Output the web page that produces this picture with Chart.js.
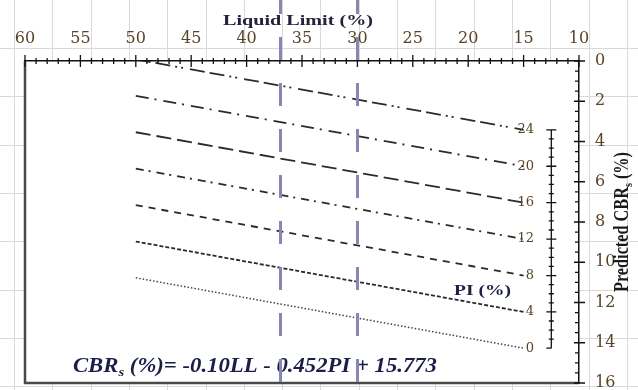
<!DOCTYPE html>
<html>
<head>
<meta charset="utf-8">
<script src="https://cdn.jsdelivr.net/npm/chart.js@4.4.1/dist/chart.umd.min.js"></script>
<style>
  html, body { margin: 0; padding: 0; background: #fff; }
</style>
</head>
<body>
<canvas id="cbrChart" width="638" height="390"></canvas>
<script>
// LL range covered by every PI line
const lineLL = [50, 15];
const piLevels = [24, 20, 16, 12, 8, 4, 0];
// predicted CBR (%) at LL = 50 and at LL = 15, one per PI line
const cbrAtStart = [-0.08, 1.73, 3.54, 5.35, 7.16, 8.97, 10.77];
const cbrAtEnd = [3.42, 5.23, 7.04, 8.85, 10.66, 12.47, 14.27];
// liquid limits marked by the vertical guides
const guideLL = [37, 30];
// tick labels
const llTicks = [60, 55, 50, 45, 40, 35, 30, 25, 20, 15, 10];
const cbrTicks = [0, 2, 4, 6, 8, 10, 12, 14, 16];

const dashStyles = [
  [15, 5, 15, 5, 2, 4, 2, 7],
  [13, 6, 2, 7],
  [15, 6],
  [8, 5, 2, 6],
  [7, 6],
  [4, 2],
  [1.5, 2]
];

const tickColor = '#5a4426';
const serif = 'Liberation Serif';

// draw text squeezed/stretched horizontally to a given width
function fitText(ctx, parts, x, y, width, align) {
  let w = 0;
  parts.forEach(p => { ctx.font = p.font; w += ctx.measureText(p.text).width; });
  const sx = width / w;
  ctx.save();
  ctx.translate(x, y);
  ctx.scale(sx, 1);
  let cx = align === 'center' ? -w / 2 : 0;
  ctx.textAlign = 'left';
  parts.forEach(p => {
    ctx.font = p.font;
    ctx.fillText(p.text, cx, p.dy || 0);
    cx += ctx.measureText(p.text).width;
  });
  ctx.restore();
}

const sheetBackground = {
  id: 'sheetBackground',
  beforeDraw(chart) {
    const {ctx, chartArea: a, width, height} = chart;
    ctx.save();
    ctx.fillStyle = '#fff';
    ctx.fillRect(0, 0, width, height);
    ctx.strokeStyle = '#d9d9d9';
    ctx.lineWidth = 1;
    ctx.beginPath();
    for (let x = 14; x < width; x += 38.3) {
      ctx.moveTo(Math.round(x) + 0.5, 0);
      ctx.lineTo(Math.round(x) + 0.5, height);
    }
    for (let y = 48; y < height; y += 48.3) {
      ctx.moveTo(0, Math.round(y) + 0.5);
      ctx.lineTo(width, Math.round(y) + 0.5);
    }
    ctx.stroke();
    ctx.fillStyle = '#fff';
    ctx.fillRect(a.left, a.top, a.right - a.left, a.bottom - a.top);
    ctx.restore();
  }
};

const decorations = {
  id: 'decorations',
  afterDraw(chart) {
    const {ctx, chartArea: a, height} = chart;
    const xs = chart.scales.x, ys = chart.scales.y;
    ctx.save();

    // plot frame, left and bottom
    ctx.strokeStyle = '#4a4a4a';
    ctx.lineWidth = 2.5;
    ctx.beginPath();
    ctx.moveTo(a.left, a.top);
    ctx.lineTo(a.left, a.bottom);
    ctx.lineTo(a.right, a.bottom);
    ctx.stroke();

    // tick marks on the LL axis (major 5, minor 1)
    ctx.strokeStyle = '#111';
    ctx.lineWidth = 1.3;
    ctx.beginPath();
    for (let v = xs.min; v <= xs.max; v++) {
      const px = xs.getPixelForValue(v);
      const len = v % 5 === 0 ? 6 : 3;
      ctx.moveTo(px, a.top - len);
      ctx.lineTo(px, a.top + len);
    }
    // tick marks on the CBR axis (major 2, minor 0.5)
    for (let v = ys.min; v <= ys.max; v += 0.5) {
      const py = ys.getPixelForValue(v);
      if (v % 2 === 0) {
        ctx.moveTo(a.right - 5, py);
        ctx.lineTo(a.right + 6, py);
      } else {
        ctx.moveTo(a.right - 4, py);
        ctx.lineTo(a.right, py);
      }
    }
    ctx.stroke();

    // PI scale beside the line ends
    const piX = xs.getPixelForValue(12.5);
    const ends = piLevels.map((pi, i) => ys.getPixelForValue(cbrAtEnd[i]));
    ctx.beginPath();
    ctx.moveTo(piX, ends[0]);
    ctx.lineTo(piX, ends[ends.length - 1]);
    ends.forEach((py, i) => {
      const last = i === ends.length - 1;
      ctx.moveTo(piX - 5, py);
      ctx.lineTo(last ? piX : piX + 5, py);
      if (!last) {
        for (let k = 1; k < 4; k++) {
          const my = py + (ends[i + 1] - py) * k / 4;
          ctx.moveTo(piX - 2.5, my);
          ctx.lineTo(piX + 2.5, my);
        }
      }
    });
    ctx.stroke();

    ctx.fillStyle = tickColor;
    ctx.font = '13px "DejaVu Serif"';
    ctx.textAlign = 'right';
    ctx.textBaseline = 'middle';
    const labelX = xs.getPixelForValue(14.05);
    piLevels.forEach((pi, i) => ctx.fillText(String(pi), labelX, ends[i]));

    ctx.textBaseline = 'middle';
    ctx.fillStyle = '#1d2048';
    fitText(ctx, [{text: 'PI (%)', font: 'bold 15px ' + serif}],
      xs.getPixelForValue(18.7), ys.getPixelForValue(11.43), 57, 'center');

    // axis title on top
    ctx.fillStyle = '#22223a';
    fitText(ctx, [{text: 'Liquid Limit (%)', font: 'bold 15px ' + serif}],
      (a.left + a.right) / 2 - 4, a.top - 40, 150, 'center');

    // rotated title on the right
    ctx.save();
    ctx.translate(a.right + 44, (a.top + a.bottom) / 2);
    ctx.scale(1.3, 1);
    ctx.rotate(-Math.PI / 2);
    ctx.fillStyle = '#1a1a1a';
    ctx.textBaseline = 'middle';
    fitText(ctx, [
      {text: 'Predicted CBR', font: 'bold 16px ' + serif},
      {text: 's', font: 'bold 10px ' + serif, dy: 4},
      {text: ' (%)', font: 'bold 16px ' + serif}
    ], 0, 0, 140, 'center');
    ctx.restore();

    // regression equation
    ctx.fillStyle = '#1b1f47';
    ctx.textBaseline = 'alphabetic';
    fitText(ctx, [
      {text: 'CBR', font: 'italic bold 20px ' + serif},
      {text: 's', font: 'italic bold 13px ' + serif, dy: 4},
      {text: ' (%)= -0.10LL - 0.452PI + 15.773', font: 'italic bold 20px ' + serif}
    ], xs.getPixelForValue(55.67), ys.getPixelForValue(15.45), 364, 'left');

    // vertical guides at the marked liquid limits
    ctx.strokeStyle = '#8787b3';
    ctx.lineWidth = 3;
    ctx.setLineDash([23, 23]);
    guideLL.forEach(ll => {
      const px = Math.round(xs.getPixelForValue(ll)) + 0.5;
      ctx.beginPath();
      ctx.moveTo(px, a.top - 70);
      ctx.lineTo(px, height);
      ctx.stroke();
    });
    ctx.restore();
  }
};

const ctx_cbr = document.getElementById('cbrChart');
const cbrChart = new Chart(ctx_cbr, {
  type: 'line',
  data: {
    datasets: piLevels.map((pi, i) => ({
      label: 'PI ' + pi,
      data: [{x: lineLL[0], y: cbrAtStart[i]}, {x: lineLL[1], y: cbrAtEnd[i]}],
      borderColor: i === 6 ? '#444' : '#2b2b2b',
      borderWidth: i === 6 ? 1.5 : 1.8,
      borderDash: dashStyles[i],
      pointRadius: 0,
      fill: false,
      tension: 0
    }))
  },
  options: {
    responsive: false,
    animation: false,
    layout: { padding: { left: 25, right: 0, top: 0, bottom: 7 } },
    plugins: {
      legend: { display: false },
      tooltip: { enabled: false }
    },
    scales: {
      x: {
        type: 'linear',
        position: 'top',
        reverse: true,
        min: 10,
        max: 60,
        afterBuildTicks: s => { s.ticks = llTicks.map(v => ({ value: v })); },
        afterFit: s => { s.height = 61; s.paddingLeft = 0; s.paddingRight = 0; },
        grid: { display: false },
        border: { display: true, color: '#111', width: 1.5 },
        ticks: {
          autoSkip: false,
          maxRotation: 0,
          padding: 5,
          color: tickColor,
          font: { family: 'DejaVu Serif', size: 16 }
        }
      },
      y: {
        type: 'linear',
        position: 'right',
        reverse: true,
        min: 0,
        max: 16,
        afterBuildTicks: s => { s.ticks = cbrTicks.map(v => ({ value: v })); },
        afterFit: s => { s.width = 59; s.paddingTop = 0; s.paddingBottom = 0; },
        grid: { display: false },
        border: { display: true, color: '#111', width: 1.5 },
        ticks: {
          autoSkip: false,
          padding: 8,
          color: tickColor,
          font: { family: 'DejaVu Serif', size: 16 }
        }
      }
    }
  },
  plugins: [sheetBackground, decorations]
});
</script>
</body>
</html>
